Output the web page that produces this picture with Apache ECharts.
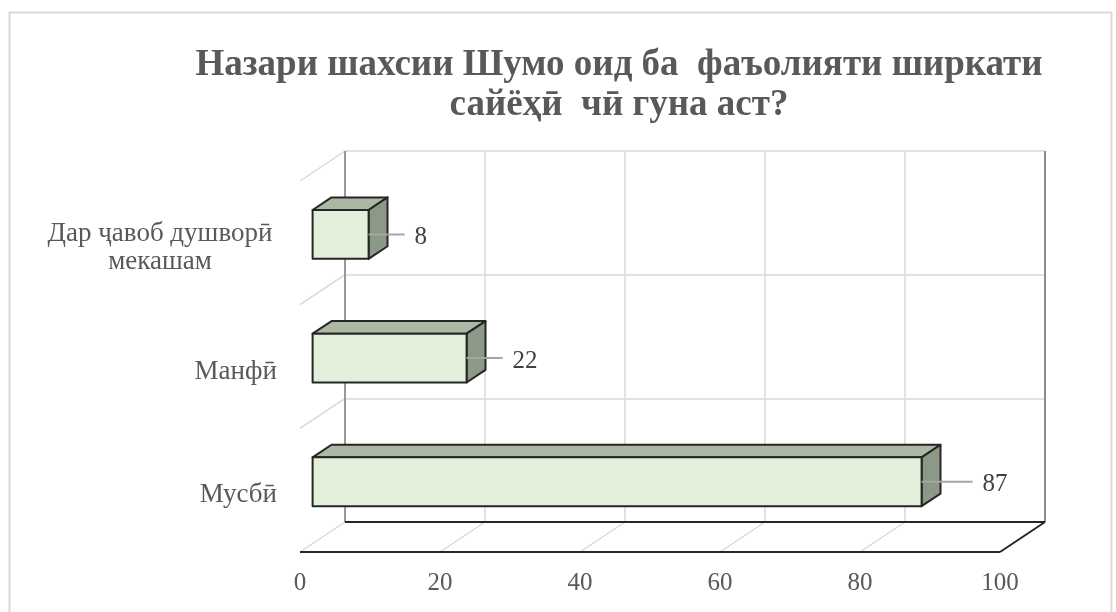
<!DOCTYPE html>
<html><head><meta charset="utf-8">
<script src="https://cdn.jsdelivr.net/npm/echarts@6/dist/echarts.min.js"></script>
<style>html,body{margin:0;padding:0;background:#fff}#c{width:1116px;height:612px}</style>
</head><body><div id="c"></div>
<script>
// ---- data ----
const titleText = 'Назари шахсии Шумо оид ба  фаъолияти ширкати\nсайёҳӣ  чӣ гуна аст?';
const categories = ['Мусбӣ', 'Манфӣ', 'Дар ҷавоб душворӣ\nмекашам'];
const values = [87, 22, 8];
const xTicks = [0, 20, 40, 60, 80, 100];

// ---- style / projection constants ----
const DX = -45, DY = 30;          // depth of the 3D box (back -> front)
const FRONT_F = 0.72, BACK_F = 0.30; // bar front/back planes as fraction of depth
const BAR_H = 0.395;              // bar thickness as fraction of band
const leaderLen = [51, 36, 36];
const FONT = 'Liberation Serif';

const xMin = xTicks[0], xMax = xTicks[xTicks.length - 1], xInt = xTicks[1] - xTicks[0];

function seg(x1, y1, x2, y2, stroke, w) {
  return { type: 'line', shape: { x1, y1, x2, y2 }, style: { stroke, lineWidth: w || 1.5 } };
}

function frameItem(params, api) {
  const ch = [];
  const n = categories.length;
  const bandH = api.size([0, 1])[1];
  const bottomY = api.coord([xMin, 0])[1] + bandH / 2;
  const topY = api.coord([xMin, n - 1])[1] - bandH / 2;
  const x0 = api.coord([xMin, 0])[0], x1 = api.coord([xMax, 0])[0];
  const light = '#d9d9d9';
  for (let k = 0; k < n; k++) {
    const y = topY + k * bandH;
    ch.push(seg(x0, y, x0 + DX, y + DY, light));
  }
  xTicks.forEach((t, i) => {
    const x = api.coord([t, 0])[0];
    if (i < xTicks.length - 1) ch.push(seg(x, bottomY, x + DX, bottomY + DY, light));
  });
  ch.push(seg(x0, topY, x0, bottomY, '#7f7f7f', 1.5));
  ch.push(seg(x1, topY, x1, bottomY, '#8c8c8c', 2));
  ch.push(seg(x0, bottomY, x1, bottomY, '#262626', 2));
  ch.push(seg(x0 + DX, bottomY + DY, x1 + DX, bottomY + DY, '#262626', 2));
  ch.push(seg(x1, bottomY, x1 + DX, bottomY + DY, '#262626', 2));
  return { type: 'group', children: ch };
}

function barItem(params, api) {
  const i = api.value(0), v = api.value(1);
  const bandH = api.size([0, 1])[1];
  const h = bandH * BAR_H;
  const pL = api.coord([xMin, i]), pR = api.coord([v, i]);
  const fx = DX * FRONT_F, fy = DY * FRONT_F, bx = DX * BACK_F, by = DY * BACK_F;
  const fl = pL[0] + fx, fr = pR[0] + fx, ft = pL[1] + fy - h / 2, fb = pL[1] + fy + h / 2;
  const br = pR[0] + bx, bl = pL[0] + bx, bt = pL[1] + by - h / 2, bb = pL[1] + by + h / 2;
  const stroke = { stroke: '#262626', lineWidth: 2, lineJoin: 'round' };
  const cy = (ft + fb) / 2;
  const L = leaderLen[params.dataIndex];
  return {
    type: 'group',
    children: [
      { type: 'polygon', shape: { points: [[fl, ft], [fr, ft], [br, bt], [bl, bt]] }, style: Object.assign({ fill: '#abb8a3' }, stroke) },
      { type: 'polygon', shape: { points: [[fr, ft], [br, bt], [br, bb], [fr, fb]] }, style: Object.assign({ fill: '#8d9987' }, stroke) },
      { type: 'rect', shape: { x: fl, y: ft, width: fr - fl, height: fb - ft }, style: Object.assign({ fill: '#e2efda' }, stroke) },
      seg(fr, cy, fr + L, cy, '#a6a6a6', 2),
      { type: 'text', style: { x: fr + L + 10, y: cy + 3, text: String(v), fill: '#404040', fontSize: 25, fontFamily: FONT, align: 'left', verticalAlign: 'middle' } }
    ]
  };
}

const chart = echarts.init(document.getElementById('c'));
chart.setOption({
  backgroundColor: '#fff',
  animation: false,
  title: {
    text: titleText, left: 619, top: 45, textAlign: 'center', padding: 0,
    textStyle: { fontFamily: FONT, fontWeight: 'bold', fontSize: 37, lineHeight: 40, color: '#595959' }
  },
  graphic: [{ type: 'rect', left: 7, top: 10, shape: { width: 1102, height: 650 }, style: { fill: 'none', stroke: '#d9d9d9', lineWidth: 2 }, silent: true }],
  grid: [
    { left: 345, top: 151, width: 700, height: 371 },
    { left: 300, top: 181, width: 700, height: 371 }
  ],
  xAxis: [
    { gridIndex: 0, type: 'value', min: xMin, max: xMax, interval: xInt, axisLine: { show: false }, axisTick: { show: false }, axisLabel: { show: false },
      splitLine: { show: true, lineStyle: { color: '#d9d9d9', width: 1.5 } } },
    { gridIndex: 1, type: 'value', min: xMin, max: xMax, interval: xInt, axisLine: { show: false }, axisTick: { show: false }, splitLine: { show: false },
      axisLabel: { show: true, margin: 19, color: '#595959', fontSize: 25, fontFamily: FONT } }
  ],
  yAxis: [
    { gridIndex: 0, type: 'category', data: categories, axisLine: { show: false }, axisTick: { show: false }, axisLabel: { show: false },
      splitLine: { show: true, lineStyle: { color: '#d9d9d9', width: 1.5 } } },
    { gridIndex: 1, type: 'category', data: categories, axisLine: { show: false }, axisTick: { show: false }, splitLine: { show: false },
      axisLabel: {
        show: true, margin: 23, color: '#595959', fontSize: 27, fontFamily: FONT, align: 'right', lineHeight: 28, padding: [10, 0, 0, 0],
        formatter: function (val) {
          if (val.indexOf('\n') >= 0) return val.split('\n').map(s => '{c|' + s + '}').join('\n');
          return val;
        },
        rich: { c: { width: 234, align: 'center', fontSize: 27, fontFamily: FONT, color: '#595959', lineHeight: 28 } }
      } }
  ],
  series: [
    { type: 'custom', xAxisIndex: 0, yAxisIndex: 0, data: [[0, 0]], renderItem: frameItem, z: 2, silent: true },
    { type: 'custom', xAxisIndex: 0, yAxisIndex: 0, data: values.map((v, i) => [i, v]), encode: { x: 1, y: 0 }, renderItem: barItem, z: 3, silent: true }
  ]
});
</script>
</body></html>
